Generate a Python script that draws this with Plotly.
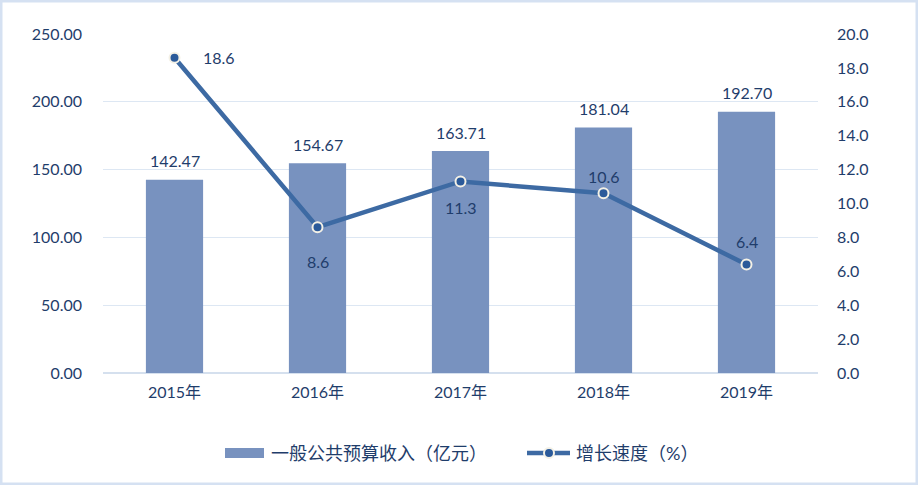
import plotly.graph_objects as go

years = ["2015年", "2016年", "2017年", "2018年", "2019年"]
revenue = [142.47, 154.67, 163.71, 181.04, 192.70]
growth = [18.6, 8.6, 11.3, 10.6, 6.4]
# label offsets (x px, y px) for growth labels
growth_shift = [(26, 0), (0, -34), (0, -26), (0, 17), (0, 23)]

txt = "#1f3d6b"
font_fam = "Lato, Noto Sans CJK SC, sans-serif"
bar_color = "#7892bf"
line_color = "#3d6aa3"

fig = go.Figure()
fig.add_trace(go.Bar(
    x=years, y=revenue, name="一般公共预算收入（亿元）",
    marker=dict(color=bar_color, line=dict(width=0)),
    width=0.4, showlegend=False,
))
fig.add_trace(go.Scatter(
    x=years, y=growth, name="增长速度（%）", yaxis="y2",
    mode="lines+markers",
    line=dict(color=line_color, width=4.5),
    marker=dict(size=10, color="#2b5a9a", line=dict(color="#f4f1e6", width=2)),
    cliponaxis=False, showlegend=False,
))

for x, v in zip(years, revenue):
    fig.add_annotation(x=x, y=v, xref="x", yref="y", text=f"{v:.2f}", showarrow=False,
                       yshift=19, font=dict(size=16, color=txt))
for x, v, (dx, dy) in zip(years, growth, growth_shift):
    fig.add_annotation(x=x, y=v, xref="x", yref="y2", text=f"{v:.1f}", showarrow=False,
                       xshift=dx, yshift=dy, xanchor="left" if dx else "center",
                       font=dict(size=16, color=txt))

W, H = 715, 339
def px(x):
    return (x - 103) / W
def py(y):
    return (373 - y) / H

# manual legend
fig.add_shape(type="rect", xref="paper", yref="paper", x0=px(225), x1=px(264),
              y0=py(458), y1=py(448), fillcolor=bar_color, line=dict(width=0))
fig.add_annotation(xref="paper", yref="paper", x=px(269), y=py(453), xanchor="left",
                   yanchor="middle", text="一般公共预算收入（亿元）", showarrow=False,
                   font=dict(size=18, color=txt))
fig.add_shape(type="line", xref="paper", yref="paper", x0=px(527), x1=px(570),
              y0=py(453), y1=py(453), line=dict(color=line_color, width=4.5))
fig.add_shape(type="circle", xref="paper", yref="paper", x0=px(544), x1=px(554),
              y0=py(458), y1=py(448), fillcolor="#2b5a9a", line=dict(color="#f4f1e6", width=2))
fig.add_annotation(xref="paper", yref="paper", x=px(574), y=py(453), xanchor="left",
                   yanchor="middle", text="增长速度（%）", showarrow=False,
                   font=dict(size=18, color=txt))

fig.update_layout(
    width=918, height=485,
    margin=dict(l=103, r=100, t=34, b=112),
    paper_bgcolor="white", plot_bgcolor="white",
    font=dict(family=font_fam, size=16, color=txt),
    showlegend=False,
    xaxis=dict(showline=False, ticks="", tickfont=dict(size=16, color=txt), ticklabelstandoff=8),
    yaxis=dict(range=[0, 250], dtick=50, tickformat=".2f", showgrid=True,
               gridcolor="#dde7f3", gridwidth=1, zeroline=True, zerolinecolor="#d5e0ee",
               tickfont=dict(size=16, color=txt), ticklabelstandoff=20),
    yaxis2=dict(range=[0, 20], dtick=2, tickformat=".1f", overlaying="y", side="right",
                showgrid=False, zeroline=False, tickfont=dict(size=16, color=txt),
                ticklabelstandoff=18),
)
fig.add_shape(type="rect", xref="paper", yref="paper",
              x0=px(1), x1=px(917), y0=py(484), y1=py(1),
              line=dict(color="#d5e1f2", width=3), layer="below")
fig.write_html("out.html")
